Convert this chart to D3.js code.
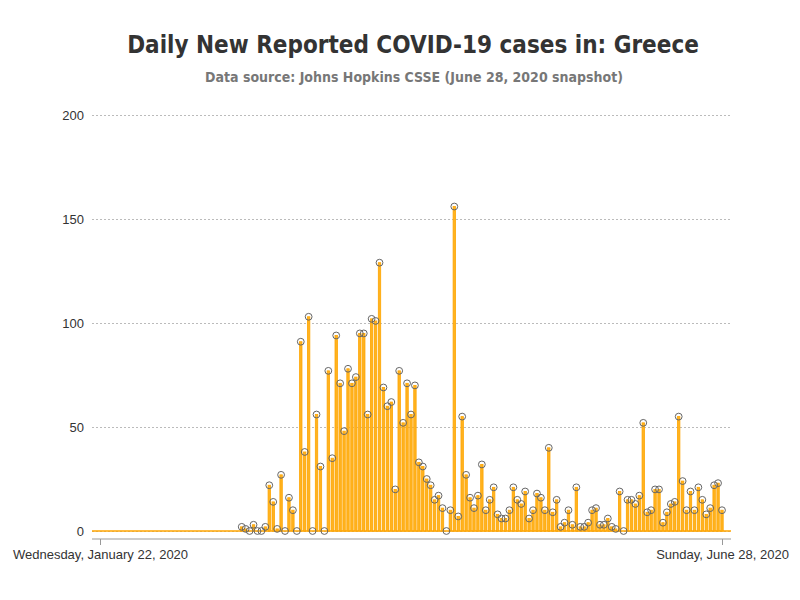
<!DOCTYPE html>
<html>
<head>
<meta charset="utf-8">
<script src="https://d3js.org/d3.v7.min.js"></script>
<style>
body { margin: 0; background: #fff; }
.ttl { font-family: "Liberation Sans Narrow", "DejaVu Sans Condensed", "Liberation Sans", sans-serif; font-weight: bold; }
.tick text, .lbl { font-family: "Liberation Sans", Arial, sans-serif; }
</style>
</head>
<body>
<div id="chart"></div>
<script>
// first reported day in the series and the date range on the axis
var firstDay = "2020-02-27";
var axisDates = ["2020-01-22", "2020-06-28"];
var yTicks = [0, 50, 100, 150, 200];

// daily new cases, one per day starting at firstDay
var newCases = [
  2, 1, 0, 3, 0, 0, 2, 22, 14, 1, 27, 0, 16, 10, 0, 91, 38, 103, 0, 56,
  31, 0, 77, 35, 94, 71, 48, 78, 71, 74, 95, 95, 56, 102, 101, 129, 69, 60, 62, 20,
  77, 52, 71, 56, 70, 33, 31, 25, 22, 15, 17, 11, 0, 10, 156, 7, 55, 27, 16, 11,
  17, 32, 10, 15, 21, 8, 6, 6, 10, 21, 15, 13, 19, 6, 10, 18, 16, 10, 40, 9,
  15, 2, 4, 10, 3, 21, 2, 2, 4, 10, 11, 3, 3, 6, 2, 1, 19, 0, 15, 15,
  13, 17, 52, 9, 10, 20, 20, 4, 9, 13, 14, 55, 24, 10, 19, 10, 21, 15, 8, 11,
  22, 23, 10
];

var width = 800, height = 600;
var parse = d3.utcParse("%Y-%m-%d");
var start = parse(firstDay);

var dataset = newCases.map(function (v, i) {
  return { date: d3.utcDay.offset(start, i), cases: v };
});

var svg = d3.select("#chart").append("svg")
  .attr("width", width)
  .attr("height", height);

var x = d3.scaleUtc()
  .domain(axisDates.map(parse))
  .range([100, 722]);

var y = d3.scaleLinear()
  .domain([0, 200])
  .range([531, 115]);

var left = 92, right = 731;

// titles
svg.append("text")
  .attr("class", "ttl")
  .attr("x", 413)
  .attr("y", 53)
  .attr("text-anchor", "middle")
  .style("font-size", "24px")
  .style("fill", "#333")
  .text("Daily New Reported COVID-19 cases in: Greece");

svg.append("text")
  .attr("class", "ttl")
  .attr("x", 414)
  .attr("y", 82)
  .attr("text-anchor", "middle")
  .style("font-size", "14px")
  .style("fill", "#777")
  .text("Data source: Johns Hopkins CSSE (June 28, 2020 snapshot)");

// grid lines + y labels
var yAxis = d3.axisLeft(y)
  .tickValues(yTicks)
  .tickSize(-(right - left))
  .tickPadding(8);

svg.append("g")
  .attr("transform", "translate(" + left + ",0)")
  .call(yAxis)
  .call(function (g) {
    g.select(".domain").remove();
    g.selectAll(".tick line")
      .attr("stroke", "#bbb")
      .attr("stroke-dasharray", "2,2");
    g.selectAll(".tick text")
      .style("font-size", "13px")
      .style("fill", "#333");
  });

// x axis, only the two end dates
var xAxis = d3.axisBottom(x)
  .tickValues(axisDates.map(parse))
  .tickSize(6)
  .tickPadding(5)
  .tickFormat(d3.utcFormat("%A, %B %-d, %Y"));

svg.append("g")
  .attr("transform", "translate(0,539)")
  .call(xAxis)
  .call(function (g) {
    g.select(".domain")
      .attr("d", "M" + left + ",0H" + right)
      .attr("stroke", "#999");
    g.selectAll(".tick line").attr("stroke", "#999");
    g.selectAll(".tick text")
      .style("font-size", "13px")
      .style("fill", "#333");
  });

// orange baseline
svg.append("line")
  .attr("x1", left)
  .attr("x2", right)
  .attr("y1", y(0))
  .attr("y2", y(0))
  .attr("stroke", "#FFA500")
  .attr("stroke-width", 1.5);

// needles
svg.selectAll(".bar")
  .data(dataset)
  .enter().append("rect")
  .attr("class", "bar")
  .attr("x", function (d) { return x(d.date) - 1.2; })
  .attr("y", function (d) { return y(d.cases); })
  .attr("width", 2.4)
  .attr("height", function (d) { return y(0) - y(d.cases); })
  .attr("fill", "#FFB320")
  .attr("stroke", "#FFA500")
  .attr("stroke-width", 0.8);

// markers
svg.selectAll(".dot")
  .data(dataset)
  .enter().append("circle")
  .attr("class", "dot")
  .attr("cx", function (d) { return x(d.date); })
  .attr("cy", function (d) { return y(d.cases); })
  .attr("r", 3.4)
  .attr("fill", "none")
  .attr("stroke", "#666")
  .attr("stroke-width", 1);
</script>
</body>
</html>
